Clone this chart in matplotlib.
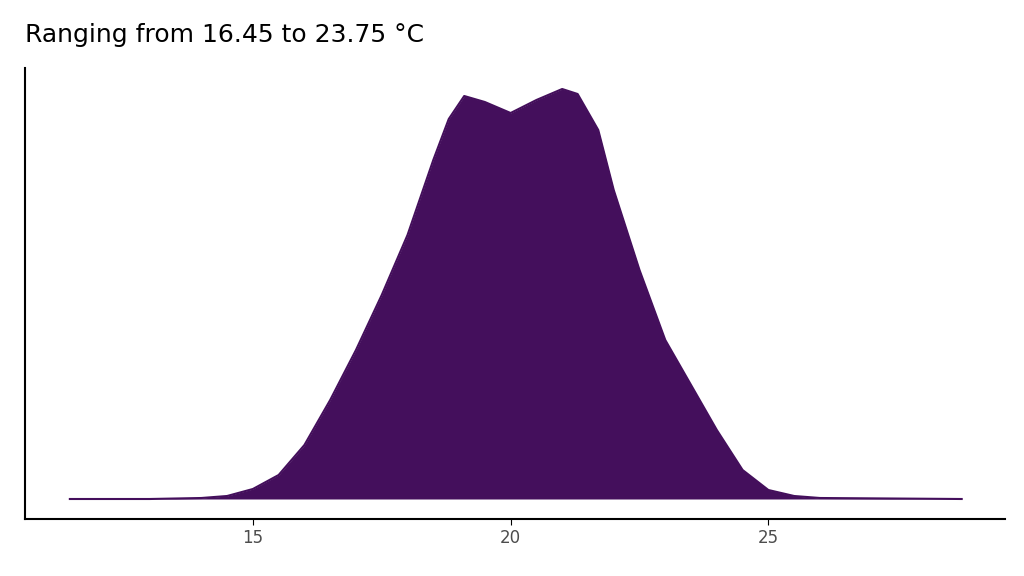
import matplotlib
matplotlib.use("Agg")
import matplotlib.pyplot as plt

temp = [11.45, 13, 14, 14.5, 15, 15.5, 16, 16.5, 17, 17.5, 18, 18.5, 18.8, 19.1, 19.5, 20, 20.5, 21, 21.3, 21.7, 22, 22.5, 23, 23.5, 24, 24.5, 25, 25.5, 26, 28.75]
density = [0, 0, 1, 3, 10, 24, 54, 99, 149, 204, 264, 339, 380, 403, 397, 386, 399, 410, 405, 369, 309, 229, 159, 114, 69, 29, 9, 3, 1, 0]

fig = plt.figure(figsize=(10.24, 5.76), dpi=100)
ax = fig.add_axes([25/1024, 1-519/576, 980/1024, (519-68)/576])
ax.fill_between(temp, density, 0, color="#440F5C", lw=0)
ax.plot(temp, density, color="#440F5C", lw=1.5)
ax.set_xlim(10.58, 29.59)
ax.set_ylim(-20, 431)
ax.set_xticks([15, 20, 25])
ax.tick_params(axis="x", labelsize=12, colors="#4d4d4d", length=4)
ax.tick_params(axis="x", colors="black", labelcolor="#4d4d4d")
ax.set_yticks([])
for s in ["top", "right"]:
    ax.spines[s].set_visible(False)
for s in ["left", "bottom"]:
    ax.spines[s].set_linewidth(1.5)
fig.text(25/1024, 1-35/576, "Ranging from 16.45 to 23.75 °C", fontsize=18, va="center", ha="left")
fig.savefig("out.png", dpi=100)
